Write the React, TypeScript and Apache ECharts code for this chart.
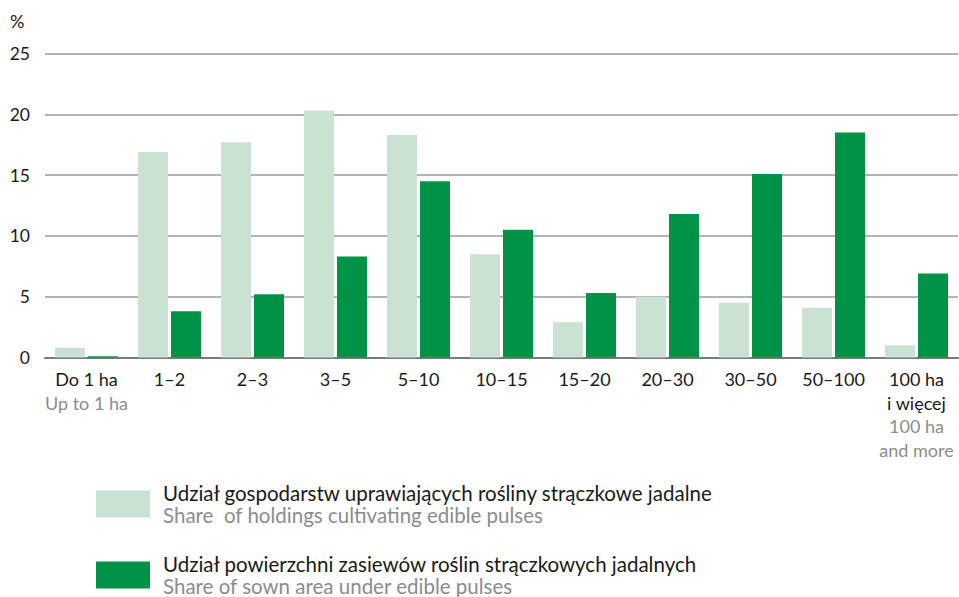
import React, { useEffect, useRef } from "react";
import * as echarts from "echarts";

const categoriesPL = ["Do 1 ha", "1–2", "2–3", "3–5", "5–10", "10–15", "15–20", "20–30", "30–50", "50–100", "100 ha\ni więcej"];
const categoriesEN = ["Up to 1 ha", "", "", "", "", "", "", "", "", "", "100 ha\nand more"];
const holdingsShare = [0.8, 16.9, 17.7, 20.3, 18.3, 8.5, 2.9, 5.0, 4.5, 4.1, 1.0];
const areaShare = [0.1, 3.8, 5.2, 8.3, 14.5, 10.5, 5.3, 11.8, 15.1, 18.5, 6.9];
const seriesNamesPL = ["Udział gospodarstw uprawiających rośliny strączkowe jadalne", "Udział powierzchni zasiewów roślin strączkowych jadalnych"];
const seriesNamesEN = ["Share  of holdings cultivating edible pulses", "Share of sown area under edible pulses"];
const yTicks = { min: 0, max: 25, interval: 5 };

const FONT = "Lato, 'Open Sans', sans-serif";
const DARK_TEXT = "#1a1a1a";
const GRAY_TEXT = "#8c8c8c";
const COLORS = ["#c9e2d2", "#009245"];

export default function App() {
  const ref = useRef<HTMLDivElement>(null);
  useEffect(() => {
    if (!ref.current) return;
    const chart = echarts.init(ref.current, null, { renderer: "svg" });
    const labels = categoriesPL.map((pl, i) => {
      const a = pl.split("\n").map((l) => `{a|${l}}`);
      const b = categoriesEN[i] ? categoriesEN[i].split("\n").map((l) => `{b|${l}}`) : [];
      return [...a, ...b].join("\n");
    });
    const legendTops = [482.5, 553.5];
    const legends = seriesNamesPL.map((name, i) => ({
      orient: "vertical",
      left: 96,
      top: legendTops[i],
      padding: 0,
      itemWidth: 54,
      itemHeight: 27,
      icon: "rect",
      selectedMode: false,
      data: [name],
      formatter: (n: string) => `{a|${n}}\n{b|${seriesNamesEN[seriesNamesPL.indexOf(n)]}}`,
      textStyle: {
        padding: [0, 0, 0, 8],
        rich: {
          a: { fontSize: 20.5, lineHeight: 22, color: DARK_TEXT, fontFamily: FONT },
          b: { fontSize: 20.5, lineHeight: 22, color: GRAY_TEXT, fontFamily: FONT },
        },
      },
    }));
    chart.setOption({
      animation: false,
      textStyle: { fontFamily: FONT },
      grid: { left: 45, right: 1, top: 53.5, bottom: 239.5, containLabel: false },
      graphic: [
        { type: "text", left: 10, top: 12, style: { text: "%", fontSize: 18, fill: DARK_TEXT, fontFamily: FONT } },
      ],
      legend: legends,
      xAxis: {
        type: "category",
        data: labels,
        axisTick: { show: false },
        axisLine: { lineStyle: { color: "#7a7a7a", width: 2 } },
        axisLabel: {
          interval: 0,
          margin: 10,
          rich: {
            a: { fontSize: 18, lineHeight: 23.5, color: DARK_TEXT, fontFamily: FONT },
            b: { fontSize: 18, lineHeight: 23.5, color: GRAY_TEXT, fontFamily: FONT },
          },
        },
      },
      yAxis: {
        type: "value",
        min: yTicks.min,
        max: yTicks.max,
        interval: yTicks.interval,
        axisLine: { show: false },
        axisTick: { show: false },
        axisLabel: { fontSize: 17.5, color: DARK_TEXT, margin: 15, fontFamily: FONT },
        splitLine: { lineStyle: { color: "#9a9a9a", width: 1.5 } },
      },
      series: [
        {
          name: seriesNamesPL[0],
          type: "bar",
          data: holdingsShare,
          barWidth: 30,
          barGap: "10%",
          itemStyle: { color: COLORS[0] },
        },
        {
          name: seriesNamesPL[1],
          type: "bar",
          data: areaShare,
          barWidth: 30,
          barGap: "10%",
          itemStyle: { color: COLORS[1] },
        },
      ],
    });
    return () => chart.dispose();
  }, []);
  return <div ref={ref} style={{ width: 959, height: 597, position: "absolute", left: 0, top: 0 }} />;
}
